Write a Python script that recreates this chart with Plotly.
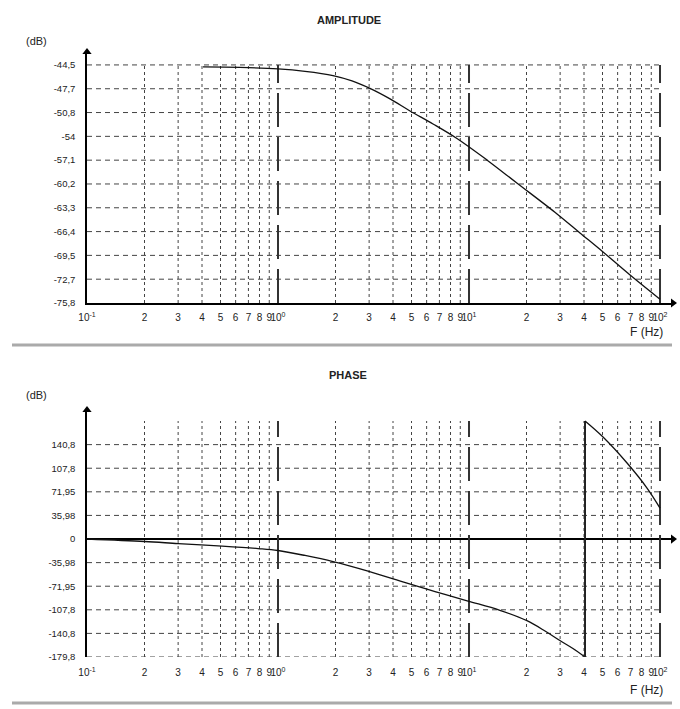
import plotly.graph_objects as go

# ---------------- data ----------------
amp_freq = [0.405, 0.632, 1.0, 1.385, 1.94, 2.44, 3.03, 3.86, 4.91, 6.48, 8.65, 12.4, 17.8, 28.9, 38.1, 50.3, 69.7, 100.0]
amp_db = [-44.76, -44.83, -45.03, -45.35, -45.9, -46.6, -47.59, -48.97, -50.55, -52.26, -54.17, -56.99,
          -60.02, -64.09, -66.59, -69.09, -72.12, -75.3]

ph_freq = [0.1, 0.2, 0.3, 0.51, 0.786, 1.0, 1.385, 1.94, 2.96, 4.46, 6.64, 9.88, 14.5, 20.1, 25.0, 29.9, 35.0, 40.5,
           40.5, 50.3, 67.2, 85.5, 100.0]
ph_deg = [0.0, -3.8, -6.9, -10.7, -14.5, -17.5, -25.1, -34.3, -48.8, -64.8, -80.0, -94.5, -108.6, -124.5, -140.2,
          -154.7, -166.8, -179.8, 179.8, 155.4, 115.8, 77.7, 47.2]

amp_tick_vals = [-44.5, -47.63, -50.76, -53.89, -57.02, -60.15, -63.28, -66.41, -69.54, -72.67, -75.8]
amp_tick_text = ["-44,5", "-47,7", "-50,8", "-54", "-57,1", "-60,2", "-63,3", "-66,4", "-69,5", "-72,7", "-75,8"]

ph_tick_vals = [143.84, 107.88, 71.92, 35.96, 0.0, -35.96, -71.92, -107.88, -143.84, -179.8]
ph_tick_text = ["140,8", "107,8", "71,95", "35,98", "0", "-35,98", "-71,95", "-107,8", "-140,8", "-179,8"]

x_tick_vals = [0.1, 0.2, 0.3, 0.4, 0.5, 0.6, 0.7, 0.8, 0.9,
               1, 2, 3, 4, 5, 6, 7, 8, 9,
               10, 20, 30, 40, 50, 60, 70, 80, 90, 100]
x_tick_text = ["10<sup>-1</sup>", "2", "3", "4", "5", "6", "7", "8", "9",
               "10<sup>0</sup>", "2", "3", "4", "5", "6", "7", "8", "9",
               "10<sup>1</sup>", "2", "3", "4", "5", "6", "7", "8", "9",
               "10<sup>2</sup>"]

minor_x = [v for v in x_tick_vals if v not in (0.1, 1, 10, 100)]
decade_x = [1, 10, 100]

AMP_TOP = -42.8
PH_TOP = 196.6
LOG_RANGE = [-1, 2.068]
X_END = 10 ** LOG_RANGE[1]
X0, X1 = 0.1, 100

FONT = "Liberation Sans, Arial, sans-serif"


def vlines(xs, y0, y1):
    X, Y = [], []
    for x in xs:
        X += [x, x, None]
        Y += [y0, y1, None]
    return X, Y


def hlines(ys, x0, x1):
    X, Y = [], []
    for y in ys:
        X += [x0, x1, None]
        Y += [y, y, None]
    return X, Y


fig = go.Figure()


def add_grid(xa, ya, ybot, ytop, hvals):
    X, Y = vlines(minor_x, ybot, ytop)
    fig.add_trace(go.Scatter(x=X, y=Y, mode="lines", xaxis=xa, yaxis=ya, hoverinfo="skip",
                             line=dict(color="#444", width=1, dash="3px,3px")))
    X, Y = hlines(hvals, X0, X1)
    fig.add_trace(go.Scatter(x=X, y=Y, mode="lines", xaxis=xa, yaxis=ya, hoverinfo="skip",
                             line=dict(color="#444", width=1, dash="5px,4px")))
    X, Y = vlines(decade_x, ybot, ytop)
    fig.add_trace(go.Scatter(x=X, y=Y, mode="lines", xaxis=xa, yaxis=ya, hoverinfo="skip",
                             line=dict(color="#333", width=2, dash="34px,10px")))


# amplitude grid
add_grid("x", "y", amp_tick_vals[-1], amp_tick_vals[0], amp_tick_vals[:-1])
# phase grid
add_grid("x2", "y2", ph_tick_vals[-1], -ph_tick_vals[-1], [v for v in ph_tick_vals if v != 0])

curve_line = dict(color="#111", width=1.3, shape="spline", smoothing=1.0)

# curves
fig.add_trace(go.Scatter(x=amp_freq, y=amp_db, mode="lines", xaxis="x", yaxis="y", line=curve_line))

# phase: split at the wrap (where the frequency repeats)
k = next(i for i in range(1, len(ph_freq)) if ph_freq[i] == ph_freq[i - 1])
fig.add_trace(go.Scatter(x=ph_freq[:k], y=ph_deg[:k], mode="lines", xaxis="x2", yaxis="y2", line=curve_line))
fig.add_trace(go.Scatter(x=ph_freq[k - 1:k + 1], y=ph_deg[k - 1:k + 1], mode="lines", xaxis="x2", yaxis="y2",
                         line=dict(color="#222", width=2)))
fig.add_trace(go.Scatter(x=ph_freq[k:], y=ph_deg[k:], mode="lines", xaxis="x2", yaxis="y2", line=curve_line))

# axis arrows
fig.add_trace(go.Scatter(x=[X0], y=[AMP_TOP], mode="markers", xaxis="x", yaxis="y", cliponaxis=False,
                         marker=dict(symbol="triangle-up", size=8, color="black")))
fig.add_trace(go.Scatter(x=[X_END], y=[amp_tick_vals[-1]], mode="markers", xaxis="x", yaxis="y", cliponaxis=False,
                         marker=dict(symbol="triangle-right", size=8, color="black")))
fig.add_trace(go.Scatter(x=[X0], y=[PH_TOP], mode="markers", xaxis="x2", yaxis="y2", cliponaxis=False,
                         marker=dict(symbol="triangle-up", size=8, color="black")))
fig.add_trace(go.Scatter(x=[X_END], y=[0], mode="markers", xaxis="x2", yaxis="y2", cliponaxis=False,
                         marker=dict(symbol="triangle-right", size=8, color="black")))

W, H = 680, 709
xdom = [87 / W, 673 / W]

common_x = dict(type="log", range=LOG_RANGE, domain=xdom, showgrid=False, zeroline=False,
                tickmode="array", tickvals=x_tick_vals, ticktext=x_tick_text, ticks="",
                tickfont=dict(family=FONT, size=10, color="#222"), tickangle=0, automargin=False)
common_y = dict(showgrid=False, ticks="", showline=True, linecolor="black", linewidth=1.5,
                tickmode="array", tickfont=dict(family=FONT, size=9.5, color="#222"),
                ticklabelstandoff=8, automargin=False)

fig.update_layout(
    width=W, height=H, margin=dict(l=0, r=0, t=0, b=0, autoexpand=False),
    plot_bgcolor="white", paper_bgcolor="white", showlegend=False,
    xaxis=dict(**common_x, anchor="y", showline=True, linecolor="black", linewidth=1.5, ticklabelstandoff=4),
    yaxis=dict(**common_y, range=[amp_tick_vals[-1], AMP_TOP], domain=[1 - 303 / H, 1 - 52 / H],
               anchor="x", zeroline=False, tickvals=amp_tick_vals, ticktext=amp_tick_text),
    xaxis2=dict(**common_x, anchor="y2", showline=False, ticklabelstandoff=8),
    yaxis2=dict(**common_y, range=[ph_tick_vals[-1], PH_TOP], domain=[1 - 657 / H, 1 - 410 / H],
                anchor="x2", zeroline=True, zerolinecolor="black", zerolinewidth=1.5,
                tickvals=ph_tick_vals, ticktext=ph_tick_text),
)


def px(x):
    return x / W


def py(y):
    return 1 - y / H


ann = [
    dict(text="<b>AMPLITUDE</b>", x=px(349), y=py(20), size=11),
    dict(text="(dB)", x=px(36), y=py(41), size=11),
    dict(text="F (Hz)", x=px(646), y=py(332), size=12),
    dict(text="<b>PHASE</b>", x=px(348), y=py(375), size=11),
    dict(text="(dB)", x=px(36), y=py(395), size=11),
    dict(text="F (Hz)", x=px(646), y=py(690), size=12),
]
for a in ann:
    fig.add_annotation(text=a["text"], x=a["x"], y=a["y"], xref="paper", yref="paper",
                       showarrow=False, xanchor="center", yanchor="middle",
                       font=dict(family=FONT, size=a["size"], color="#222"))

for yy in (345, 703):
    fig.add_shape(type="line", xref="paper", yref="paper", x0=px(12), x1=px(672), y0=py(yy), y1=py(yy),
                  line=dict(color="#aaa", width=3))

fig.write_html("out.html", config={"displayModeBar": False},
               post_script="document.body.style.margin='0px';document.body.style.overflow='hidden';")
